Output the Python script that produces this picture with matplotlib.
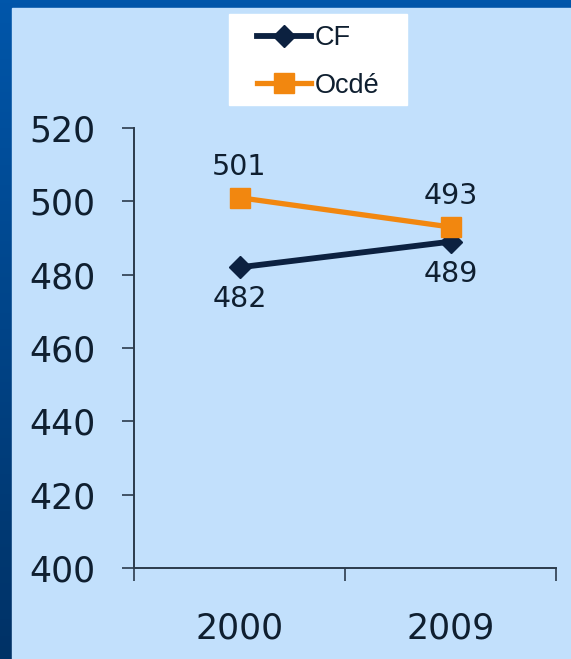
import matplotlib
matplotlib.use("Agg")
import matplotlib.pyplot as plt
import numpy as np
from matplotlib.colors import LinearSegmentedColormap
from matplotlib.patches import Rectangle

years = ["2000", "2009"]
cf = [482, 489]
ocde = [501, 493]
series_names = ["CF", "Ocdé"]
yticks = [400, 420, 440, 460, 480, 500, 520]

NAVY = "#0c2140"
ORANGE = "#f2870f"
PANEL = "#c2e0fc"
TEXT = "#0f1f30"
W, H = 571, 659

fig = plt.figure(figsize=(W / 100, H / 100), dpi=100)

# slide background with the light panel on top
bg = fig.add_axes([0, 0, 1, 1])
bg.axis("off")
cmap = LinearSegmentedColormap.from_list("slide", ["#0056aa", "#003266"])
bg.imshow(np.linspace(0, 1, 200).reshape(-1, 1), cmap=cmap, aspect="auto",
          extent=[0, 1, 0, 1], zorder=0)
bg.set_xlim(0, 1)
bg.set_ylim(0, 1)
bg.add_patch(Rectangle((12 / W, 0), 1 - 12 / W, (H - 8) / H, color=PANEL, zorder=1))
bg.add_patch(Rectangle((229 / W, 1 - 105 / H), 178 / W, 91 / H, color="white", zorder=2))

ax = fig.add_axes([134 / W, 1 - 568 / H, (556 - 134) / W, (568 - 128) / H])
ax.set_facecolor("none")
x = np.arange(len(years))
l1, = ax.plot(x, cf, color=NAVY, lw=4.2, marker="D", ms=11.5, label=series_names[0])
l2, = ax.plot(x, ocde, color=ORANGE, lw=3.8, marker="s", ms=14.5, label=series_names[1])

for xi, v in zip(x, cf):
    ax.annotate(str(v), (xi, v), xytext=(0, -23), textcoords="offset points",
                ha="center", va="center", fontsize=20.5, color=TEXT)
for xi, v in zip(x, ocde):
    ax.annotate(str(v), (xi, v), xytext=(0, 22), textcoords="offset points",
                ha="center", va="center", fontsize=20.5, color=TEXT)

ax.set_xlim(-0.5, len(years) - 0.5)
ax.set_ylim(400, 520)
ax.set_yticks(yticks)
ax.set_xticks(x)
ax.set_xticklabels(years)
ax.set_xticks(np.arange(-0.5, len(years)), minor=True)
ax.tick_params(axis="x", which="major", length=0, pad=31, labelsize=25, labelcolor=TEXT)
ax.tick_params(axis="x", which="minor", length=9, width=1.2, color="#2b3b4c")
ax.tick_params(axis="y", length=9, width=1.2, color="#2b3b4c", pad=19,
               labelsize=25, labelcolor=TEXT)
for s in ["top", "right"]:
    ax.spines[s].set_visible(False)
for s in ["left", "bottom"]:
    ax.spines[s].set_color("#2b3b4c")
    ax.spines[s].set_linewidth(1.4)

fig.legend(handles=[l1, l2], loc="center", bbox_to_anchor=(318 / W, 1 - 62 / H),
           frameon=False, prop={"family": "Liberation Sans", "size": 19.5},
           handlelength=2.0, handletextpad=0.15, labelspacing=0.78, labelcolor=TEXT)

fig.savefig("out.png", dpi=100)
